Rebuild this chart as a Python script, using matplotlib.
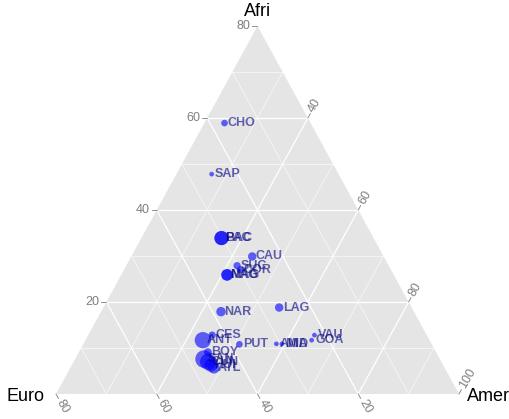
import numpy as np
import matplotlib
matplotlib.use("Agg")
import matplotlib.pyplot as plt

plt.rcParams["font.family"] = ["Liberation Sans", "DejaVu Sans"]

# sites and their ancestry fractions (Afri, Euro, Amer)
sites = ["CHO", "SAP", "BAC", "PAC", "CAU", "SUC", "COR", "NAG", "MAG", "NAR", "LAG",
         "CES", "ANT", "PUT", "AMA", "MID", "VAU", "GOA",
         "BOY", "SAN", "CUN", "HUI", "ATL"]
afri = [0.589, 0.478, 0.339, 0.339, 0.299, 0.279, 0.270, 0.259, 0.259, 0.179, 0.188,
        0.128, 0.117, 0.108, 0.109, 0.109, 0.128, 0.117,
        0.091, 0.076, 0.070, 0.063, 0.057]
euro = [0.171, 0.252, 0.302, 0.302, 0.261, 0.301, 0.299, 0.331, 0.331, 0.383, 0.263,
        0.426, 0.450, 0.382, 0.308, 0.297, 0.223, 0.234,
        0.453, 0.468, 0.463, 0.461, 0.458]
amer = [0.240, 0.270, 0.359, 0.359, 0.440, 0.420, 0.431, 0.410, 0.410, 0.438, 0.549,
        0.446, 0.433, 0.510, 0.583, 0.594, 0.649, 0.649,
        0.456, 0.456, 0.467, 0.476, 0.485]
n_samples = [10, 5, 45, 45, 16, 12, 12, 30, 30, 20, 16,
             12, 60, 10, 5, 5, 5, 5,
             14, 70, 60, 40, 30]

afri_ticks = [20, 40, 60, 80]
euro_ticks = [20, 40, 60, 80]
amer_ticks = [40, 60, 80, 100]

H = np.sqrt(3) / 2


def tern_xy(a, e, m):
    # zoomed simplex: Afri 0-0.8, Euro 0-0.8, Amer 0.2-1
    a, m = np.asarray(a, dtype=float), np.asarray(m, dtype=float)
    wT = a / 0.8
    wR = (m - 0.2) / 0.8
    return wR + 0.5 * wT, H * wT


fig = plt.figure(figsize=(5.1, 4.19), dpi=100)
ax = fig.add_axes([56 / 510, 25 / 419, 403 / 510, 368 / 419])
ax.set_xlim(0, 1)
ax.set_ylim(0, H)
ax.axis("off")

ax.fill([0, 1, 0.5], [0, 0, H], color="#E5E5E5", lw=0, zorder=0)

# grid lines every 10, thicker every 20
for v in np.arange(0.1, 0.8, 0.1):
    major = int(round(v * 100)) % 20 == 0
    lw = 0.9 if major else 0.4
    x, y = tern_xy([v, v], [0.8 - v, 0], [0.2, 1 - v])          # Afri
    ax.plot(x, y, color="white", lw=lw, zorder=1)
    x, y = tern_xy([0, 0.8 - v], [v, v], [1 - v, 0.2])          # Euro
    ax.plot(x, y, color="white", lw=lw, zorder=1)
    m = v + 0.2
    x, y = tern_xy([0, 1 - m], [1 - m, 0], [m, m])              # Amer
    ax.plot(x, y, color="white", lw=lw, zorder=1)

tick_col = "#7F7F7F"
tick_len = 5
to_px = ax.transData.transform
to_data = ax.transData.inverted().transform


def draw_tick(p_edge, p_inner, label, rot, gap, ha="center"):
    pe, pi = to_px(p_edge), to_px(p_inner)
    d = (pe - pi) / np.linalg.norm(pe - pi)
    end = to_data(pe + d * tick_len)
    ax.plot([p_edge[0], end[0]], [p_edge[1], end[1]], color=tick_col, lw=0.6,
            clip_on=False, zorder=2)
    lp = to_data(pe + d * (tick_len + gap))
    ax.text(lp[0], lp[1], label, color=tick_col, fontsize=9, rotation=rot,
            ha=ha, va="center", rotation_mode="anchor", clip_on=False)


for t in afri_ticks:
    v = t / 100
    draw_tick(tern_xy(v, 0.8 - v, 0.2), tern_xy(v, 0.7 - v, 0.3), str(t), 0, 2, ha="right")
for t in euro_ticks:
    v = t / 100
    draw_tick(tern_xy(0, v, 1 - v), tern_xy(0.05, v, 0.95 - v), str(t), -60, 2, ha="left")
for t in amer_ticks:
    m = t / 100
    draw_tick(tern_xy(1 - m, 0, m), tern_xy(0.95 - m, 0.05, m), str(t), 60, 2, ha="left")

# vertex titles
ax.annotate("Afri", xy=(0.5, H), xytext=(0, 4), textcoords="offset points",
            fontsize=13, ha="center", va="bottom", annotation_clip=False)
ax.annotate("Euro", xy=(0, 0), xytext=(-8, -2), textcoords="offset points",
            fontsize=13, ha="right", va="center", annotation_clip=False)
ax.annotate("Amer", xy=(1, 0), xytext=(6, -2), textcoords="offset points",
            fontsize=13, ha="left", va="center", annotation_clip=False)

# points and labels
px, py = tern_xy(afri, euro, amer)
sizes = np.array(n_samples) * 2.3
ax.scatter(px, py, s=sizes, color="blue", alpha=0.6, lw=0, zorder=3, clip_on=False)
for name, x, y in zip(sites, px, py):
    ax.annotate(name, xy=(x, y), xytext=(2.5, 0), textcoords="offset points",
                fontsize=9, fontweight="bold", color="navy", alpha=0.6,
                ha="left", va="center", zorder=4)

fig.savefig("out.png", dpi=100)
